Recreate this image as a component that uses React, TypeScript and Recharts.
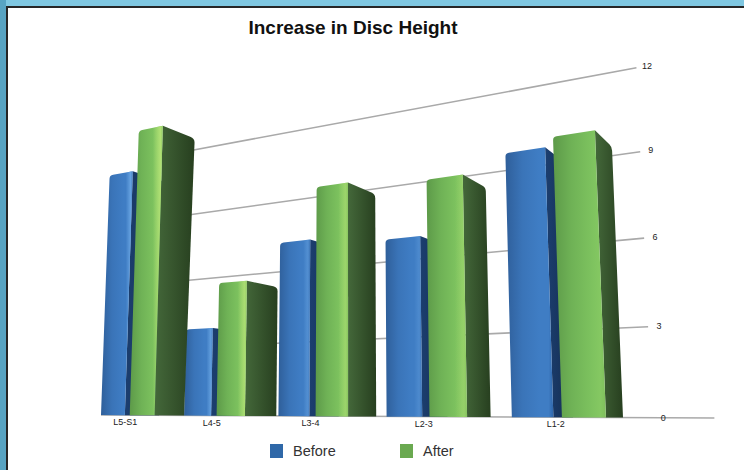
import React from "react";
import { BarChart, Bar, XAxis, YAxis, CartesianGrid, Legend } from "recharts";

const categories = ["L5-S1", "L4-5", "L3-4", "L2-3", "L1-2"];
const beforeValues = [10.0, 3.3, 6.3, 6.0, 8.4];
const afterValues = [11.7, 5.0, 8.2, 7.9, 8.7];
const valueTicks = [0, 3, 6, 9, 12];

const rows = categories.map((name, i) => ({ name, Before: beforeValues[i], After: afterValues[i] }));

const W = 744;
const H = 470;
const FONT = '"Liberation Sans", Arial, sans-serif';

// Flat plot area handed to Recharts; the perspective below maps it onto the page.
const PLOT_LEFT = 100;
const BAND = 100;
const PLOT_TOP = 50;
const PLOT_BOTTOM = 420;
const LEGEND_H = 26;
const BAR_GAP = 6;
const UNIT = (PLOT_BOTTOM - PLOT_TOP) / 12;
const GROUP_OFFSET = 0.17;

// Homography (camera) constants.
const P = { c: -0.06, b: 0.00318, a: 21.6, ax: 72, x0: 101, e: 1.1, y0: 415, g: 0.55 };
const BAR_SCALE = 1.15; // bars stand in front of the wall
const DEPTH = 0.046;
const VP = { x: 890, y: 417 };

const weight = (u: number, v: number) => 1 + P.c * u + P.b * v;
const project = (u: number, v: number) => {
  const w = weight(u, v);
  return { x: (P.ax * u + P.x0 + P.e * v) / w, y: P.y0 + P.g * u - (P.a * v) / w };
};
const back = (u: number, v: number) => {
  const p = project(u, v);
  const w = weight(u, v);
  const t = DEPTH / (w + DEPTH);
  return { x: p.x + (VP.x - p.x) * t, y: p.y + (VP.y - p.y) * t };
};
const lerp = (a: any, b: any, t: number) => ({ x: a.x + (b.x - a.x) * t, y: a.y + (b.y - a.y) * t });
const f = (n: number) => n.toFixed(2);
const pt = (p: any) => `${f(p.x)} ${f(p.y)}`;

const uOfX = (x: number) => (x - PLOT_LEFT) / BAND - GROUP_OFFSET;
const vOfY = (y: number) => (PLOT_BOTTOM - y) / UNIT;

type Tone = "blue" | "green";
// gloss per category: the strip of light near the front face's right edge fades toward the right.
const gloss = [1, 0.9, 0.55, 0.4, 0];

const frontStops: Record<Tone, { base: string[]; glow: string; glowFrom: number }> = {
  blue: { base: ["#2f5f9a", "#3a74b8", "#3f7dc4", "#3f7dc4", "#2f66aa"], glow: "#66a2e0", glowFrom: 0.78 },
  green: { base: ["#5d9a49", "#6fb256", "#7cc15e", "#85c862", "#7fbe5c"], glow: "#b0e074", glowFrom: 0.7 },
};
const sideStops: Record<Tone, string[]> = {
  blue: ["#1c3f70", "#142c50"],
  green: ["#44683a", "#273f1f"],
};

function Bar3D(props: any) {
  const { x, width, height, index, tone } = props as { x: number; width: number; height: number; index: number; tone: Tone };
  const u0 = uOfX(x);
  const u1 = u0 + width / BAND;
  const v = (height / UNIT) * BAR_SCALE;
  const bl = project(u0, 0);
  const br = project(u1, 0);
  const tl = project(u0, v);
  const tr = project(u1, v);
  const bbRaw = back(u1, 0);
  // the next category's blue bar stands in front of this green side at the floor
  const nextLeft = tone === "green" ? project(u0 - (width + BAR_GAP) / BAND + 1, 0).x : Infinity;
  const bb = { x: Math.min(bbRaw.x, nextLeft), y: bbRaw.y };
  const bt = back(u1, v);

  const r = 3.5 / Math.max(1, Math.hypot(tl.x - bl.x, tl.y - bl.y));
  const rw = 3.5 / Math.max(1, Math.hypot(tr.x - tl.x, tr.y - tl.y));
  const tlA = lerp(tl, bl, r);
  const tlB = lerp(tl, tr, rw);
  const rs = 4 / Math.max(1, Math.hypot(bt.x - bb.x, bt.y - bb.y));
  const btA = lerp(bt, tr, 0.14);
  const btB = lerp(bt, bb, rs);

  const fid = `front-${tone}-${index}`;
  const sid = `side-${tone}-${index}`;
  const g = gloss[index] ?? 0;
  const fs = frontStops[tone];

  return (
    <g>
      <defs>
        <linearGradient id={fid} x1="0" y1="0" x2="1" y2="0">
          <stop offset="0" stopColor={fs.base[0]} />
          <stop offset="0.35" stopColor={fs.base[1]} />
          <stop offset="0.7" stopColor={fs.base[2]} />
          <stop offset="0.9" stopColor={fs.base[3]} />
          <stop offset="1" stopColor={fs.base[4]} />
        </linearGradient>
        <linearGradient id={`${fid}-glow`} x1="0" y1="0" x2="1" y2="0">
          <stop offset={fs.glowFrom} stopColor={fs.glow} stopOpacity={0} />
          <stop offset="0.93" stopColor={fs.glow} stopOpacity={g} />
          <stop offset="1" stopColor={fs.glow} stopOpacity={g * 0.35} />
        </linearGradient>
        <linearGradient id={sid} x1="0" y1="0" x2="1" y2="0">
          <stop offset="0" stopColor={sideStops[tone][0]} />
          <stop offset="1" stopColor={sideStops[tone][1]} />
        </linearGradient>
      </defs>
      <path d={`M${pt(tr)} L${pt(btA)} Q${pt(bt)} ${pt(btB)} L${pt(bb)} L${pt(br)} Z`} fill={`url(#${sid})`} />
      <path d={`M${pt(bl)} L${pt(tlA)} Q${pt(tl)} ${pt(tlB)} L${pt(tr)} L${pt(br)} Z`} fill={`url(#${fid})`} />
      <path d={`M${pt(bl)} L${pt(tlA)} Q${pt(tl)} ${pt(tlB)} L${pt(tr)} L${pt(br)} Z`} fill={`url(#${fid}-glow)`} />
    </g>
  );
}

const GRID_STARTS: Record<number, number> = { 0: 0, 3: 1.4, 6: 0.8, 9: 0.8, 12: 0.8 };

function GridStroke(props: any) {
  const v = Math.round(vOfY(props.y1));
  const start = GRID_STARTS[v] ?? 0;
  const end = v === 0 ? 5.34 : 4.96;
  const a = project(start, v);
  const b = project(end, v);
  return <line x1={a.x} y1={a.y} x2={b.x} y2={b.y} stroke="#a9a9a9" strokeWidth={1.6} />;
}

function ValueTick(props: any) {
  const v = Math.round(vOfY(props.y));
  const p = project(5.03, v);
  return (
    <text x={p.x} y={p.y} textAnchor="middle" dominantBaseline="central" fontSize={9} fontFamily={FONT} fill="#222">
      {props.payload.value}
    </text>
  );
}

function CategoryTick(props: any) {
  const p = project(uOfX(props.x), 0);
  return (
    <text x={p.x - 2} y={p.y + 7} textAnchor="middle" dominantBaseline="central" fontSize={9} fontFamily={FONT} fill="#222">
      {props.payload.value}
    </text>
  );
}

const LEGEND_LAYOUT: Record<string, { box: number; label: number }> = {
  Before: { box: 270, label: 293 },
  After: { box: 400, label: 423 },
};

function LegendBlock(props: any) {
  return (
    <div style={{ position: "relative", width: W, height: LEGEND_H }}>
      {(props.payload || []).map((item: any) => {
        const at = LEGEND_LAYOUT[item.value];
        return (
          <React.Fragment key={item.value}>
            <div style={{ position: "absolute", left: at.box, top: 6, width: 13, height: 14, background: item.color }} />
            <div
              style={{
                position: "absolute",
                left: at.label,
                top: 4,
                fontFamily: FONT,
                fontSize: 14.5,
                lineHeight: "18px",
                color: "#333",
              }}
            >
              {item.value}
            </div>
          </React.Fragment>
        );
      })}
    </div>
  );
}

export default function App() {
  return (
    <div style={{ position: "fixed", left: 0, top: 0, width: W, height: H, background: "#7fc7e1", overflow: "hidden" }}>
      <div style={{ position: "absolute", left: 0, top: 0, width: 6, height: H, background: "#58a4c3" }} />
      <div
        style={{
          position: "absolute",
          left: 6,
          top: 6,
          width: W - 6,
          height: H - 6,
          boxSizing: "border-box",
          background: "#fff",
          borderLeft: "2px solid #262626",
          borderTop: "2px solid #262626",
        }}
      />
      <div
        style={{
          position: "absolute",
          left: 153,
          width: 400,
          top: 16,
          textAlign: "center",
          fontFamily: FONT,
          fontWeight: 700,
          fontSize: 19,
          lineHeight: "24px",
          color: "#111",
        }}
      >
        Increase in Disc Height
      </div>
      <div style={{ position: "absolute", left: 0, top: 0 }}>
        <BarChart
          width={W}
          height={H}
          data={rows}
          margin={{
            top: PLOT_TOP,
            right: W - PLOT_LEFT - BAND * categories.length,
            bottom: H - PLOT_BOTTOM - LEGEND_H - 1,
            left: PLOT_LEFT - 1,
          }}
          barSize={30}
          barGap={BAR_GAP}
        >
          <CartesianGrid vertical={false} horizontal={(p: any) => <GridStroke key={p.key ?? p.y1} {...p} />} />
          <XAxis dataKey="name" height={1} axisLine={false} tickLine={false} interval={0} tick={(p: any) => <CategoryTick {...p} />} />
          <YAxis
            width={1}
            domain={[0, 12]}
            ticks={valueTicks}
            axisLine={false}
            tickLine={false}
            tick={(p: any) => <ValueTick {...p} />}
          />
          <Legend
            content={(p: any) => <LegendBlock {...p} />}
            wrapperStyle={{ position: "absolute", left: 0, top: 438, width: W, height: LEGEND_H }}
          />
          <Bar dataKey="Before" fill="#2f68a8" isAnimationActive={false} shape={(p: any) => <Bar3D {...p} tone="blue" />} />
          <Bar dataKey="After" fill="#6aa950" isAnimationActive={false} shape={(p: any) => <Bar3D {...p} tone="green" />} />
        </BarChart>
      </div>
    </div>
  );
}
